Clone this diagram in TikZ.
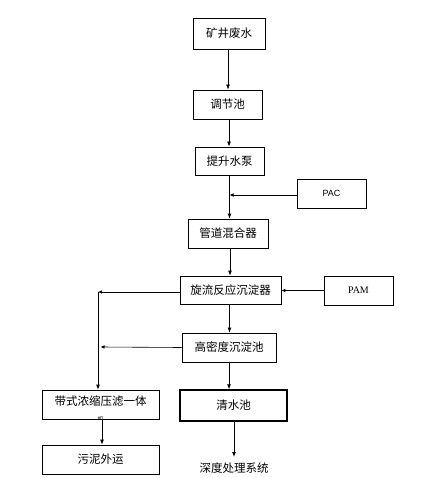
\documentclass[tikz,border=0pt]{standalone}
\usepackage{fontspec}
\newfontfamily\cjk{Noto Sans CJK SC}
\newfontfamily\lsans{Liberation Sans}
\newfontfamily\lserif{Liberation Serif}
\usetikzlibrary{arrows.meta}
\begin{document}
\begin{tikzpicture}[x=1pt,y=-1pt,
  box/.style={draw,line width=0.8pt,inner sep=0pt,font=\cjk\fontsize{11.5}{13}\selectfont},
  flow/.style={draw,line width=0.8pt,-{Latex[length=5pt,width=4pt]}},
  thin/.style={draw,line width=0.6pt,-{Latex[length=4pt,width=3.5pt]}}]
\useasboundingbox[fill=white] (0,0) rectangle (444,478);
\node[box,minimum width=72pt,minimum height=31pt] (a) at (229,33.5) {矿井废水};
\node[box,minimum width=69pt,minimum height=29pt] (b) at (227.5,104.5) {调节池};
\node[box,minimum width=69pt,minimum height=28pt] (c) at (229.5,161) {提升水泵};
\node[draw,line width=0.8pt,minimum width=69pt,minimum height=29pt,font=\lsans\fontsize{9}{11}\selectfont] (pac) at (331.5,193.5) {PAC};
\node[box,minimum width=80pt,minimum height=29pt] (d) at (228,233.5) {管道混合器};
\node[box,minimum width=101pt,minimum height=28pt] (e) at (230.5,290) {旋流反应沉淀器};
\node[draw,line width=0.8pt,minimum width=69pt,minimum height=29pt,font=\lserif\fontsize{10}{12}\selectfont] (pam) at (358.5,290.5) {PAM};
\node[box,minimum width=94pt,minimum height=29pt] (f) at (229,347.5) {高密度沉淀池};
\node[box,minimum width=117pt,minimum height=29pt] (g) at (100.5,404.5) {};
\node[font=\cjk\fontsize{11.5}{13}\selectfont] (gt) at (100.5,401) {带式浓缩压滤一体};
\begin{scope}
\clip (42,390) rectangle (159,418.5);
\node[font=\cjk\fontsize{6}{7}\selectfont] (gm) at (100.5,419) {机};
\end{scope}
\node[box,line width=1.4pt,minimum width=107pt,minimum height=31pt] (h) at (233.5,405.5) {清水池};
\node[box,minimum width=117pt,minimum height=29pt] (i) at (100.5,459.5) {污泥外运};
\node[font=\cjk\fontsize{11.5}{13}\selectfont,inner sep=0pt] (j) at (234,468) {深度处理系统};
\coordinate (cj) at (234,457);
\coordinate (m1) at (229.5,195);
\coordinate (L1) at (98,292);
\coordinate (L2) at (100.5,347);
\draw[flow] (a.south -| 228,0) -- (b.north -| 228,0);
\draw[flow] (b.south -| 229,0) -- (c.north -| 229,0);
\draw[flow] (c.south -| 229.5,0) -- (d.north -| 229.5,0);
\draw[thin] (pac.west |- m1) -- (m1);
\draw[flow] (d.south -| 230,0) -- (e.north -| 230,0);
\draw[thin] (pam.west) -- (e.east |- pam.west);
\draw[thin] (e.west |- L1) -- (L1);
\draw[flow] (L1) -- (g.north -| L1);
\draw[thin] (f.west) -- (L2);
\draw[flow] (e.south -| 229.5,0) -- (f.north -| 229.5,0);
\draw[flow] (f.south -| 229,0) -- (h.north -| 229,0);
\draw[flow] (g.south -| 102,0) -- (i.north -| 102,0);
\draw[flow] (h.south -| 234,0) -- (cj);
\end{tikzpicture}
\end{document}
